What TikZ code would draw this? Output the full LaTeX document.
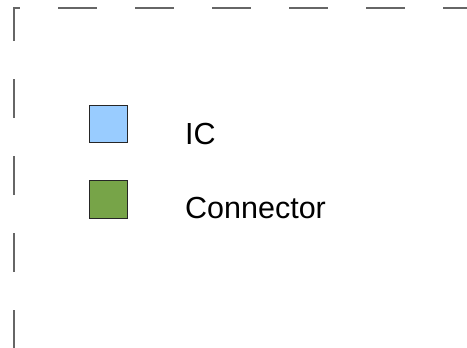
\documentclass[tikz,border=0pt]{standalone}
\usepackage{fontspec}
\setmainfont{Liberation Sans}
\usepackage{xcolor}
\definecolor{icblue}{HTML}{99CCFF}
\definecolor{congreen}{HTML}{77A448}
\begin{document}
\begin{tikzpicture}[x=1pt,y=-1pt]
			\tikzset{legendbox/.style={draw=black!85,line width=1pt,minimum size=37.5pt,inner sep=0pt}}
			\tikzset{legendtext/.style={anchor=base west,inner sep=0pt,font=\fontsize{30.5}{36}\selectfont}}
			\useasboundingbox (0,0) rectangle (467,348);
			\draw[black!60,line width=1.3pt,dash pattern=on 39pt off 38pt,dash phase=1pt] (14,348) |- (470,8);
			\node[legendbox,fill=icblue] (icbox) at (108.5,124) {};
			\node[legendbox,fill=congreen] (conbox) at (108.5,199.5) {};
			\node[legendtext] (iclabel) at (185,144) {IC};
			\node[legendtext] (conlabel) at (185,218.5) {Connector};
		\end{tikzpicture}
\end{document}
